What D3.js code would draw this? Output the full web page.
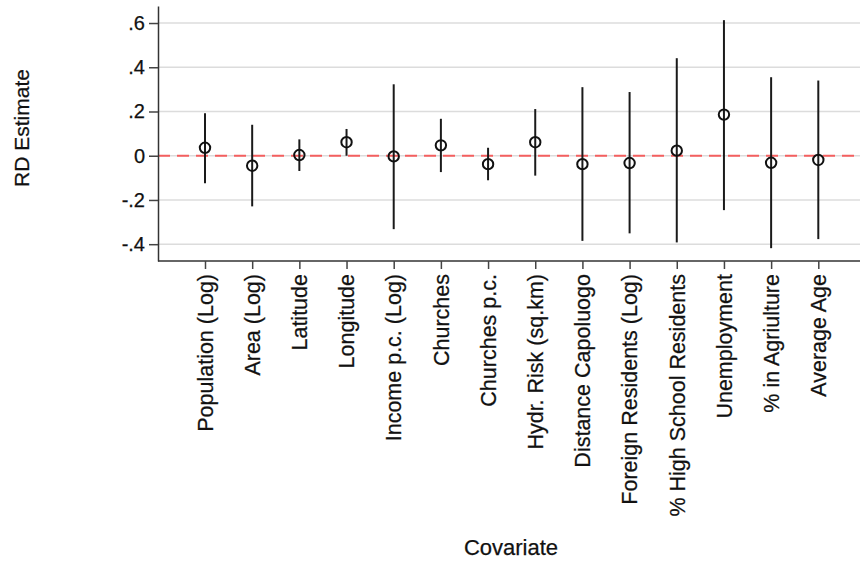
<!DOCTYPE html>
<html>
<head>
<meta charset="utf-8">
<script src="https://cdn.jsdelivr.net/npm/d3@7"></script>
<style>
  body { margin: 0; background: #fff; }
  text { font-family: "Liberation Sans", Arial, sans-serif; fill: #111; stroke: #111; stroke-width: 0.25px; }
</style>
</head>
<body>
<div id="chart"></div>
<script>
// covariates along the x axis
const covariates = [
    "Population (Log)", "Area (Log)", "Latitude", "Longitude", "Income p.c. (Log)",
    "Churches", "Churches p.c.", "Hydr. Risk (sq.km)", "Distance Capoluogo",
    "Foreign Residents (Log)", "% High School Residents", "Unemployment",
    "% in Agriulture", "Average Age"
];
// point estimates and 95% CI bounds
const estimates = [0.036, -0.045, 0.003, 0.061, -0.003, 0.047, -0.038, 0.061, -0.038, -0.033, 0.023, 0.186, -0.032, -0.019];
const ciLower   = [-0.124, -0.229, -0.069, 0.0, -0.332, -0.074, -0.111, -0.090, -0.385, -0.351, -0.392, -0.246, -0.418, -0.377];
const ciUpper   = [0.192, 0.140, 0.074, 0.121, 0.323, 0.167, 0.036, 0.211, 0.310, 0.288, 0.441, 0.613, 0.355, 0.340];
const yTicks = [-0.4, -0.2, 0, 0.2, 0.4, 0.6];

const data = covariates.map((c, i) => ({
    name: c, est: estimates[i], lo: ciLower[i], hi: ciUpper[i], i: i
}));

const width = 860, height = 563;
const plotLeft = 158, plotRight = 860, plotTop = 6, plotBottom = 261;

const svg = d3.select("#chart").append("svg")
    .attr("width", width)
    .attr("height", height);

const x = d3.scaleLinear()
    .domain([0, covariates.length - 1])
    .range([205, 818.3]);

const y = d3.scaleLinear()
    .domain([-0.476, 0.677])
    .range([plotBottom, plotTop]);

// Stata style: .2, -.4, 0
const fmt = d => {
    if (d === 0) return "0";
    return (d < 0 ? "-" : "") + "." + Math.round(Math.abs(d) * 10);
};

// grid lines
svg.append("g")
    .selectAll("line")
    .data(yTicks)
    .join("line")
    .attr("x1", plotLeft)
    .attr("x2", plotRight)
    .attr("y1", d => y(d))
    .attr("y2", d => y(d))
    .attr("stroke", "#dcdcdc")
    .attr("stroke-width", 1.5);

// zero reference line
svg.append("line")
    .attr("x1", plotLeft)
    .attr("x2", plotRight)
    .attr("y1", y(0))
    .attr("y2", y(0))
    .attr("stroke", "#f45f5f")
    .attr("stroke-width", 2)
    .attr("stroke-dasharray", "12,7");

// y axis
const yAxis = svg.append("g")
    .attr("transform", `translate(${plotLeft},0)`)
    .call(d3.axisLeft(y).tickValues(yTicks).tickFormat(fmt).tickSize(9).tickPadding(4).tickSizeOuter(0));
yAxis.select(".domain").attr("stroke", "#333").attr("stroke-width", 1.5);
yAxis.selectAll(".tick line").attr("stroke", "#444").attr("stroke-width", 1.5);
yAxis.selectAll("text")
    .style("font-size", "20px")
    .style("font-family", "Liberation Sans, Arial, sans-serif")
    .attr("fill", "#111");

// x axis
const xAxis = svg.append("g")
    .attr("transform", `translate(0,${plotBottom})`)
    .call(d3.axisBottom(x).tickValues(d3.range(covariates.length)).tickFormat("").tickSize(8).tickSizeOuter(0));
xAxis.select(".domain")
    .attr("d", `M${plotLeft},0H${plotRight}`)
    .attr("stroke", "#333").attr("stroke-width", 1.5);
xAxis.selectAll(".tick line").attr("stroke", "#444").attr("stroke-width", 1.5);

// rotated category labels
svg.append("g")
    .selectAll("text")
    .data(data)
    .join("text")
    .attr("transform", d => `translate(${x(d.i)},274) rotate(-90)`)
    .attr("text-anchor", "end")
    .attr("dy", "0.36em")
    .style("font-size", "21.5px")
    .text(d => d.name);

// confidence intervals
svg.append("g")
    .selectAll("line")
    .data(data)
    .join("line")
    .attr("x1", d => x(d.i))
    .attr("x2", d => x(d.i))
    .attr("y1", d => y(d.lo))
    .attr("y2", d => y(d.hi))
    .attr("stroke", "#1a1a1a")
    .attr("stroke-width", 2);

// point estimates
svg.append("g")
    .selectAll("circle")
    .data(data)
    .join("circle")
    .attr("cx", d => x(d.i))
    .attr("cy", d => y(d.est))
    .attr("r", 5.2)
    .attr("fill", "none")
    .attr("stroke", "#111")
    .attr("stroke-width", 2);

// axis titles
svg.append("text")
    .attr("transform", "translate(29,128) rotate(-90)")
    .attr("text-anchor", "middle")
    .style("font-size", "21px")
    .text("RD Estimate");

svg.append("text")
    .attr("x", 511)
    .attr("y", 555)
    .attr("text-anchor", "middle")
    .style("font-size", "22px")
    .text("Covariate");
</script>
</body>
</html>
